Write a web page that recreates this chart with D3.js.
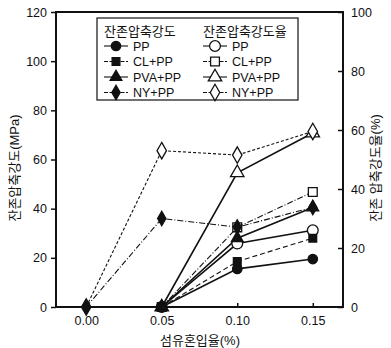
<!DOCTYPE html>
<html>
<head>
<meta charset="utf-8">
<script src="https://cdn.jsdelivr.net/npm/d3@7"></script>
<style>
  body { margin: 0; background: #fff; }
  text { font-family: "Liberation Sans", Arial, "Noto Sans CJK KR", sans-serif; fill: #111; }
</style>
</head>
<body>
<script>
// fibre content (%)
var fibre = [0.00, 0.05, 0.10, 0.15];
var names = ["PP", "CL+PP", "PVA+PP", "NY+PP"];

// residual compressive strength (MPa), null = no point
var strPP  = [null, 0, 15.5, 19.5];
var strCL  = [null, 0, 18.5, 28];
var strPVA = [null, 0, 28, 40.5];
var strNY  = [0, 36, 32.5, 40.5];

// residual compressive strength ratio (%)
var ratPP  = [null, 0, 21.5, 26];
var ratCL  = [null, 0, 27, 39];
var ratPVA = [null, 0, 45.5, 59];
var ratNY  = [0, 53, 51.5, 59.5];

var leftTicks = [0, 20, 40, 60, 80, 100, 120];
var rightTicks = [0, 20, 40, 60, 80, 100];
var xTicks = [0.00, 0.05, 0.10, 0.15];

var W = 391, H = 348;
var svg = d3.select("body").append("svg").attr("width", W).attr("height", H);

var x = d3.scaleLinear().domain([-0.02, 0.17]).range([56, 343]);
var yL = d3.scaleLinear().domain([0, 120]).range([307, 12]);
var yR = d3.scaleLinear().domain([0, 100]).range([307, 12]);

// axes
var gl = svg.append("g").attr("transform", "translate(56,0)")
  .call(d3.axisLeft(yL).tickValues(leftTicks).tickSize(5).tickPadding(4));
var gr = svg.append("g").attr("transform", "translate(343,0)")
  .call(d3.axisRight(yR).tickValues(rightTicks).tickSize(-5).tickPadding(8));
var gb = svg.append("g").attr("transform", "translate(0,307)")
  .call(d3.axisBottom(x).tickValues(xTicks).tickSize(-4).tickPadding(9).tickFormat(d3.format(".2f")));
[gl, gr, gb].forEach(function(g) {
  g.selectAll("text").style("font-size", "12.5px");
  g.selectAll("line").attr("stroke", "#111").attr("stroke-width", 1.5);
  g.select(".domain").remove();
});

// frame
svg.append("rect").attr("x", 56).attr("y", 12).attr("width", 287).attr("height", 295)
  .attr("fill", "none").attr("stroke", "#111").attr("stroke-width", 2);

// axis titles
svg.append("text").attr("transform", "translate(19,168) rotate(-90)")
  .attr("text-anchor", "middle").style("font-size", "13px").text("잔존압축강도(MPa)");
svg.append("text").attr("transform", "translate(380,168) rotate(-90)")
  .attr("text-anchor", "middle").style("font-size", "13px").text("잔존 압축강도율(%)");
svg.append("text").attr("x", 200).attr("y", 345)
  .attr("text-anchor", "middle").style("font-size", "13px").text("섬유혼입율(%)");

var dashes = {
  solid: null,
  dash: "5,3",
  dashdot: "6,2,1,2",
  fine: "3,2"
};

var series = [
  {vals: strPP,  y: yL, shape: "circle",   filled: true,  dash: "solid"},
  {vals: strCL,  y: yL, shape: "square",   filled: true,  dash: "dash"},
  {vals: strPVA, y: yL, shape: "triangle", filled: true,  dash: "solid"},
  {vals: strNY,  y: yL, shape: "diamond",  filled: true,  dash: "dashdot"},
  {vals: ratPP,  y: yR, shape: "circle",   filled: false, dash: "solid"},
  {vals: ratCL,  y: yR, shape: "square",   filled: false, dash: "dashdot"},
  {vals: ratPVA, y: yR, shape: "triangle", filled: false, dash: "solid"},
  {vals: ratNY,  y: yR, shape: "diamond",  filled: false, dash: "fine"}
];

var symbols = {
  circle: d3.symbolCircle,
  square: d3.symbolSquare,
  triangle: d3.symbolTriangle,
  diamond: d3.symbolDiamond
};
var sizes = { circle: 70, square: 60, triangle: 60, diamond: 60 };

function marker(g, s, px, py) {
  g.append("path")
    .attr("d", d3.symbol().type(symbols[s.shape]).size(s.filled ? sizes[s.shape] : sizes[s.shape] * 1.3)())
    .attr("transform", "translate(" + px + "," + py + ")")
    .attr("fill", s.filled ? "#111" : "#fff")
    .attr("stroke", "#111").attr("stroke-width", 1.3);
}

var lineLayer = svg.append("g");
var markLayer = svg.append("g");

series.forEach(function(s) {
  var pts = fibre.map(function(f, i) { return [f, s.vals[i]]; })
    .filter(function(p) { return p[1] !== null; });
  var line = d3.line().x(function(p) { return x(p[0]); }).y(function(p) { return s.y(p[1]); });
  lineLayer.append("path").attr("d", line(pts)).attr("fill", "none")
    .attr("stroke", "#111").attr("stroke-width", s.dash === "solid" ? 1.6 : 1.1)
    .attr("stroke-dasharray", dashes[s.dash]);
});
// open markers first, filled on top
series.slice(4).concat(series.slice(0, 4)).forEach(function(s) {
  fibre.forEach(function(f, i) {
    if (s.vals[i] !== null) marker(markLayer, s, x(f), s.y(s.vals[i]));
  });
});

// legend
var lg = svg.append("g");
lg.append("rect").attr("x", 97).attr("y", 18).attr("width", 201).attr("height", 82)
  .attr("fill", "#fff").attr("stroke", "#111").attr("stroke-width", 1.2);
lg.append("text").attr("x", 104).attr("y", 36).style("font-size", "13px").text("잔존압축강도");
lg.append("text").attr("x", 203).attr("y", 36).style("font-size", "13px").text("잔존압축강도율");
[0, 1].forEach(function(col) {
  var x0 = col === 0 ? 104 : 203;
  names.forEach(function(n, i) {
    var s = series[col * 4 + i];
    var yy = 46 + i * 15.5;
    lg.append("line").attr("x1", x0).attr("x2", x0 + 24).attr("y1", yy).attr("y2", yy)
      .attr("stroke", "#111").attr("stroke-width", 1.1)
      .attr("stroke-dasharray", s.dash === "solid" ? null : "4,1.5");
    marker(lg, s, x0 + 12, yy);
    lg.append("text").attr("x", x0 + 29).attr("y", yy + 4.5).style("font-size", "12.5px").text(n);
  });
});
</script>
</body>
</html>
